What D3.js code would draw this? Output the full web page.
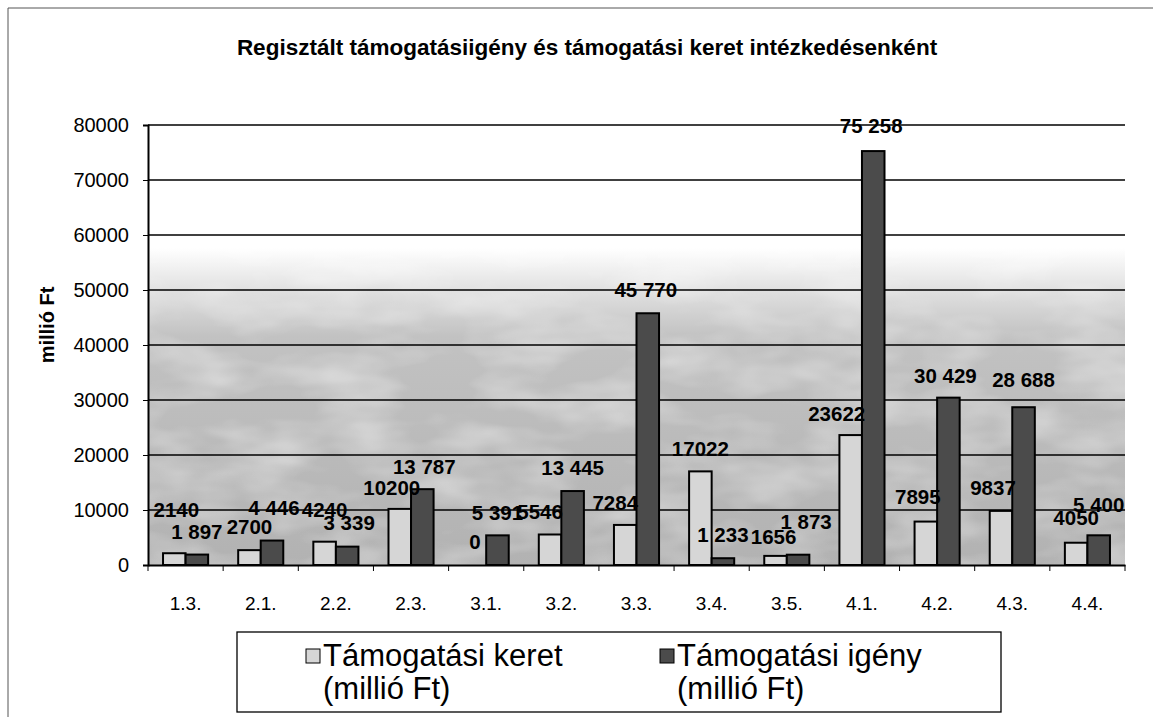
<!DOCTYPE html>
<html>
<head>
<meta charset="utf-8">
<script src="https://cdn.jsdelivr.net/npm/d3@7"></script>
<style>
    body { margin: 0; background: #fff; }
    svg text { font-family: Arial, "Liberation Sans", sans-serif; fill: #000; }
</style>
</head>
<body>
<svg id="chart" width="1153" height="717"></svg>
<script>
// data
const categories = ["1.3.", "2.1.", "2.2.", "2.3.", "3.1.", "3.2.", "3.3.", "3.4.", "3.5.", "4.1.", "4.2.", "4.3.", "4.4."];
const keretValues = [2140, 2700, 4240, 10200, 0, 5546, 7284, 17022, 1656, 23622, 7895, 9837, 4050];
const igenyValues = [1897, 4446, 3339, 13787, 5391, 13445, 45770, 1233, 1873, 75258, 30429, 28688, 5400];
const yTicks = [0, 10000, 20000, 30000, 40000, 50000, 60000, 70000, 80000];
const seriesNames = [["Támogatási keret", "(millió Ft)"], ["Támogatási igény", "(millió Ft)"]];
const title = "Regisztált támogatásiigény és támogatási keret intézkedésenként";

const width = 1153, height = 717;
const margin = { left: 148, right: 28, top: 125, bottom: 152 };
const drawWidth = width - margin.left - margin.right;
const drawHeight = height - margin.top - margin.bottom;

// labels in the original were dragged around a bit by hand
const labelNudge = {
    keret: { 0: [2, -20], 2: [0, -9], 3: [-8, 2], 5: [-10, 0], 6: [-10, 1], 8: [-2, 4], 9: [-14, 2], 10: [-8, -2], 11: [-8, 0], 12: [0, -2] },
    igeny: { 1: [2, -10], 2: [2, -1], 3: [2, 1], 6: [-2, 0], 8: [8, -10], 9: [-2, -2], 10: [-3, 1], 11: [0, -4], 12: [0, -7] }
};

const svg = d3.select("#chart");

const x0 = d3.scaleBand().domain(categories).range([0, drawWidth]).paddingInner(0.4).paddingOuter(0.2);
const x1 = d3.scaleBand().domain(["keret", "igeny"]).range([0, x0.bandwidth()]);
const y = d3.scaleLinear().domain([0, 80000]).range([drawHeight, 0]);
const colors = { keret: "#d6d6d6", igeny: "#4b4b4b" };

const spaced = d3.formatLocale({ thousands: " ", grouping: [3], decimal: ",", currency: ["", ""] }).format(",d");

// outer frame of the pasted chart
svg.append("path").attr("d", `M8,${height} V8 H${width}`)
    .attr("fill", "none").attr("stroke", "#555").attr("stroke-width", 1);

svg.append("text").attr("x", 587).attr("y", 55).attr("text-anchor", "middle")
    .attr("font-size", 22.5).attr("font-weight", "bold").text(title);

// plot background, fading from white to grey, with a bit of mottling
const defs = svg.append("defs");
const grad = defs.append("linearGradient").attr("id", "bg").attr("x1", 0).attr("y1", 0).attr("x2", 0).attr("y2", 1);
grad.append("stop").attr("offset", "0%").attr("stop-color", "#ffffff");
grad.append("stop").attr("offset", "28%").attr("stop-color", "#ffffff");
grad.append("stop").attr("offset", "37%").attr("stop-color", "#e2e2e2");
grad.append("stop").attr("offset", "48%").attr("stop-color", "#c2c2c2");
grad.append("stop").attr("offset", "100%").attr("stop-color", "#b2b2b2");

const mottle = defs.append("filter").attr("id", "mottle").attr("x", 0).attr("y", 0).attr("width", 1).attr("height", 1);
mottle.append("feTurbulence").attr("type", "fractalNoise").attr("baseFrequency", "0.012 0.03").attr("numOctaves", 3).attr("seed", 4).attr("result", "noise");
mottle.append("feColorMatrix").attr("in", "noise").attr("type", "matrix")
    .attr("values", "0.7 0 0 0 -0.28  0.7 0 0 0 -0.28  0.7 0 0 0 -0.28  0 0 0 0 1").attr("result", "grey");
mottle.append("feBlend").attr("in", "SourceGraphic").attr("in2", "grey").attr("mode", "screen");

const chartArea = svg.append("g").attr("transform", `translate(${margin.left},${margin.top})`);

chartArea.append("rect").attr("width", drawWidth).attr("height", drawHeight)
    .attr("fill", "url(#bg)").attr("filter", "url(#mottle)");

chartArea.append("g").selectAll("line").data(yTicks.slice(1)).join("line")
    .attr("x1", 0).attr("x2", drawWidth)
    .attr("y1", d => y(d)).attr("y2", d => y(d))
    .attr("stroke", "#000").attr("stroke-width", 1.3);

const groups = chartArea.append("g").selectAll("g").data(categories).join("g")
    .attr("transform", d => `translate(${x0(d)},0)`);

const rows = categories.map((c, i) => [
    { key: "keret", i: i, value: keretValues[i] },
    { key: "igeny", i: i, value: igenyValues[i] }
]);

groups.selectAll("rect").data((d, i) => rows[i]).join("rect")
    .attr("x", d => x1(d.key))
    .attr("y", d => y(d.value))
    .attr("width", x1.bandwidth())
    .attr("height", d => drawHeight - y(d.value))
    .attr("fill", d => colors[d.key])
    .attr("stroke", "#000").attr("stroke-width", 2);

groups.selectAll("text").data((d, i) => rows[i]).join("text")
    .attr("x", d => x1(d.key) + x1.bandwidth() / 2 + ((labelNudge[d.key][d.i] || [0, 0])[0]))
    .attr("y", d => y(d.value) - 23 + ((labelNudge[d.key][d.i] || [0, 0])[1]))
    .attr("dy", "0.35em")
    .attr("text-anchor", "middle")
    .attr("font-size", 20.5).attr("font-weight", "bold")
    .text(d => d.key === "igeny" ? spaced(d.value) : d.value);

// axes
const yAxis = d3.axisLeft(y).tickValues(yTicks).tickSize(5).tickPadding(14).tickFormat(d3.format("d"));
const gy = chartArea.append("g").call(yAxis);
gy.select(".domain").attr("stroke-width", 2);
gy.selectAll("text").attr("font-size", 20).style("font-family", "Arial, 'Liberation Sans', sans-serif");

const xAxis = d3.axisBottom(x0).tickSize(0).tickPadding(32);
const gx = chartArea.append("g").attr("transform", `translate(0,${drawHeight})`).call(xAxis);
gx.select(".domain").attr("stroke-width", 2);
gx.selectAll("text").attr("font-size", 19).style("font-family", "Arial, 'Liberation Sans', sans-serif");

// tick marks sit between the categories
gx.append("g").selectAll("line").data(d3.range(categories.length + 1)).join("line")
    .attr("x1", i => i * drawWidth / categories.length)
    .attr("x2", i => i * drawWidth / categories.length)
    .attr("y1", 0).attr("y2", 6)
    .attr("stroke", "#000");

svg.append("text")
    .attr("transform", `translate(54,${margin.top + drawHeight / 2 - 20}) rotate(-90)`)
    .attr("text-anchor", "middle").attr("font-size", 20).attr("font-weight", "bold")
    .text("millió Ft");

// legend
const legend = svg.append("g").attr("transform", "translate(237,632)");
legend.append("rect").attr("width", 764).attr("height", 80)
    .attr("fill", "#fff").attr("stroke", "#000").attr("stroke-width", 1.3);

const items = legend.selectAll("g").data(["keret", "igeny"]).join("g")
    .attr("transform", (d, i) => `translate(${i === 0 ? 69 : 423},0)`);
items.append("rect").attr("x", 0).attr("y", 17).attr("width", 14).attr("height", 14)
    .attr("fill", d => colors[d]).attr("stroke", "#000");
items.each(function (d, i) {
    const t = d3.select(this).append("text").attr("x", 17).attr("y", 34).attr("font-size", 31);
    t.append("tspan").attr("x", 17).text(seriesNames[i][0]);
    t.append("tspan").attr("x", 17).attr("dy", 33).text(seriesNames[i][1]);
});
</script>
</body>
</html>
